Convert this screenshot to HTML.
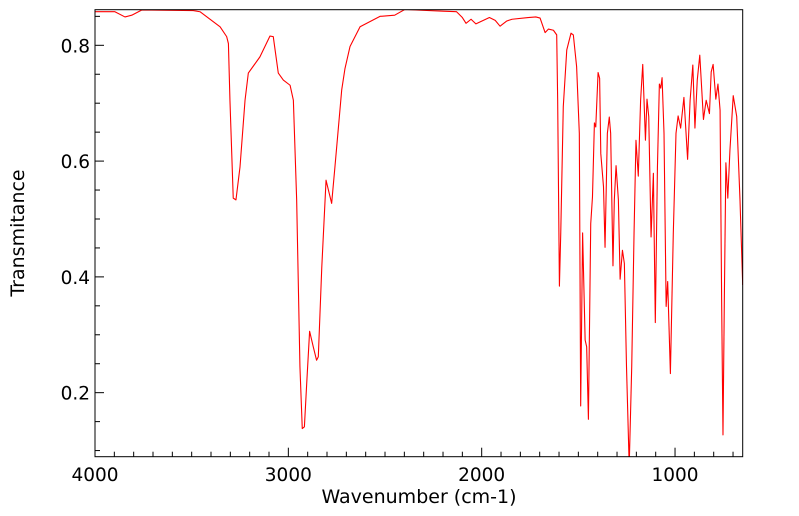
<!DOCTYPE html>
<html><head><meta charset="utf-8"><style>
html,body{margin:0;padding:0;background:#fff;}
svg{display:block;font-family:"DejaVu Sans","Liberation Sans",sans-serif;}
</style></head><body>
<svg id="chart" width="799" height="516" viewBox="0 0 799 516" xmlns="http://www.w3.org/2000/svg">
<defs><clipPath id="plotclip"><rect x="95" y="9.7" width="647.7" height="447"/></clipPath></defs>
<g id="axes"></g>
<path id="series" fill="none" stroke="#ff0000" stroke-width="1.1" stroke-linejoin="round" clip-path="url(#plotclip)"/>
<rect x="95" y="9.7" width="647.7" height="447" fill="none" stroke="#000" stroke-width="1"/>
<text x="419" y="503" text-anchor="middle" font-size="19">Wavenumber (cm-1)</text>
<text x="24" y="233" text-anchor="middle" font-size="19" transform="rotate(-90 24 233)">Transmitance</text>
</svg>
<script>
const wavenumbers = [4000,3897,3845,3810,3758,3492,3457,3353,3319,3310,3302,3285,3271,3250,3224,3207,3147,3095,3078,3052,3026,2991,2974,2957,2940,2928,2917,2905,2890,2871,2854,2845,2827,2805,2776,2759,2724,2707,2681,2629,2526,2450,2397,2200,2130,2100,2081,2055,2030,1960,1930,1905,1870,1843,1760,1720,1698,1672,1655,1629,1612,1607,1598,1591,1578,1560,1538,1526,1509,1495,1488,1478,1465,1457,1448,1436,1427,1417,1410,1398,1390,1384,1370,1362,1350,1340,1333,1321,1314,1305,1293,1284,1272,1262,1251,1237,1224,1212,1202,1190,1178,1167,1153,1145,1136,1124,1112,1102,1091,1081,1074,1067,1057,1046,1038,1024,1009,995,984,971,954,935,922,908,897,885,872,853,839,822,813,803,789,778,767,759,752,745,737,727,716,699,681,664,650];
const transmittance = [0.858,0.858,0.849,0.852,0.861,0.860,0.858,0.832,0.815,0.803,0.705,0.536,0.533,0.590,0.705,0.752,0.780,0.816,0.815,0.752,0.740,0.731,0.705,0.533,0.245,0.138,0.141,0.216,0.306,0.279,0.256,0.262,0.417,0.567,0.527,0.590,0.723,0.760,0.798,0.832,0.850,0.852,0.862,0.859,0.858,0.848,0.838,0.845,0.837,0.848,0.843,0.833,0.842,0.845,0.848,0.849,0.847,0.822,0.828,0.826,0.818,0.705,0.384,0.476,0.694,0.792,0.821,0.818,0.763,0.648,0.177,0.476,0.291,0.279,0.154,0.492,0.538,0.666,0.659,0.753,0.743,0.613,0.556,0.451,0.648,0.676,0.648,0.419,0.533,0.592,0.533,0.396,0.446,0.423,0.245,0.073,0.245,0.475,0.636,0.574,0.705,0.767,0.636,0.707,0.677,0.469,0.579,0.321,0.590,0.733,0.726,0.744,0.648,0.349,0.392,0.233,0.475,0.648,0.678,0.657,0.710,0.603,0.705,0.766,0.657,0.740,0.783,0.672,0.705,0.682,0.754,0.767,0.707,0.733,0.688,0.360,0.127,0.360,0.597,0.536,0.619,0.713,0.677,0.533,0.386];
const xTicks = [4000,3000,2000,1000];
const xTickLabels = ["4000","3000","2000","1000"];
const yTicks = [0.2,0.4,0.6,0.8];
const yTickLabels = ["0.2","0.4","0.6","0.8"];

const X0=95, X1=742.7, Y0=9.7, Y1=456.7;
const xMax=4000, xMin=650, yMax=0.8615, yMin=0.0894;
function xs(v){return X0+(xMax-v)/(xMax-xMin)*(X1-X0);}
function ys(v){return Y1-(v-yMin)/(yMax-yMin)*(Y1-Y0);}

const NS="http://www.w3.org/2000/svg";
const axes=document.getElementById('axes');
function line(x1,y1,x2,y2,name){
  const l=document.createElementNS(NS,'line');
  l.setAttribute('x1',x1);l.setAttribute('y1',y1);l.setAttribute('x2',x2);l.setAttribute('y2',y2);
  l.setAttribute('stroke','#000');l.setAttribute('stroke-width','1');
  
  
  axes.appendChild(l);
}
function text(x,y,s,anchor,name){
  const t=document.createElementNS(NS,'text');
  t.setAttribute('x',x);t.setAttribute('y',y);t.setAttribute('text-anchor',anchor);
  t.setAttribute('font-size','18.5');t.textContent=s;
  
  
  axes.appendChild(t);
}
for(let w=700; w<=4000; w+=100){
  const major = xTicks.indexOf(w)>=0;
  line(xs(w),Y1,xs(w),Y1-(major?9:5),'x-tick');
}
xTicks.forEach((v,i)=>text(xs(v),481,xTickLabels[i],'middle','x-tick-label'));
for(let k=2;k<=17;k++){
  const v=k*0.05;
  const major=(k%4===0);
  line(X0,ys(v),X0+(major?9:5),ys(v),'y-tick');
}
yTicks.forEach((v,i)=>text(90,ys(v)+7,yTickLabels[i],'end','y-tick-label'));

let d='';
wavenumbers.forEach((w,i)=>{d+=(i?'L':'M')+xs(w).toFixed(2)+','+ys(transmittance[i]).toFixed(2);});
document.getElementById('series').setAttribute('d',d);
</script>
</body></html>
